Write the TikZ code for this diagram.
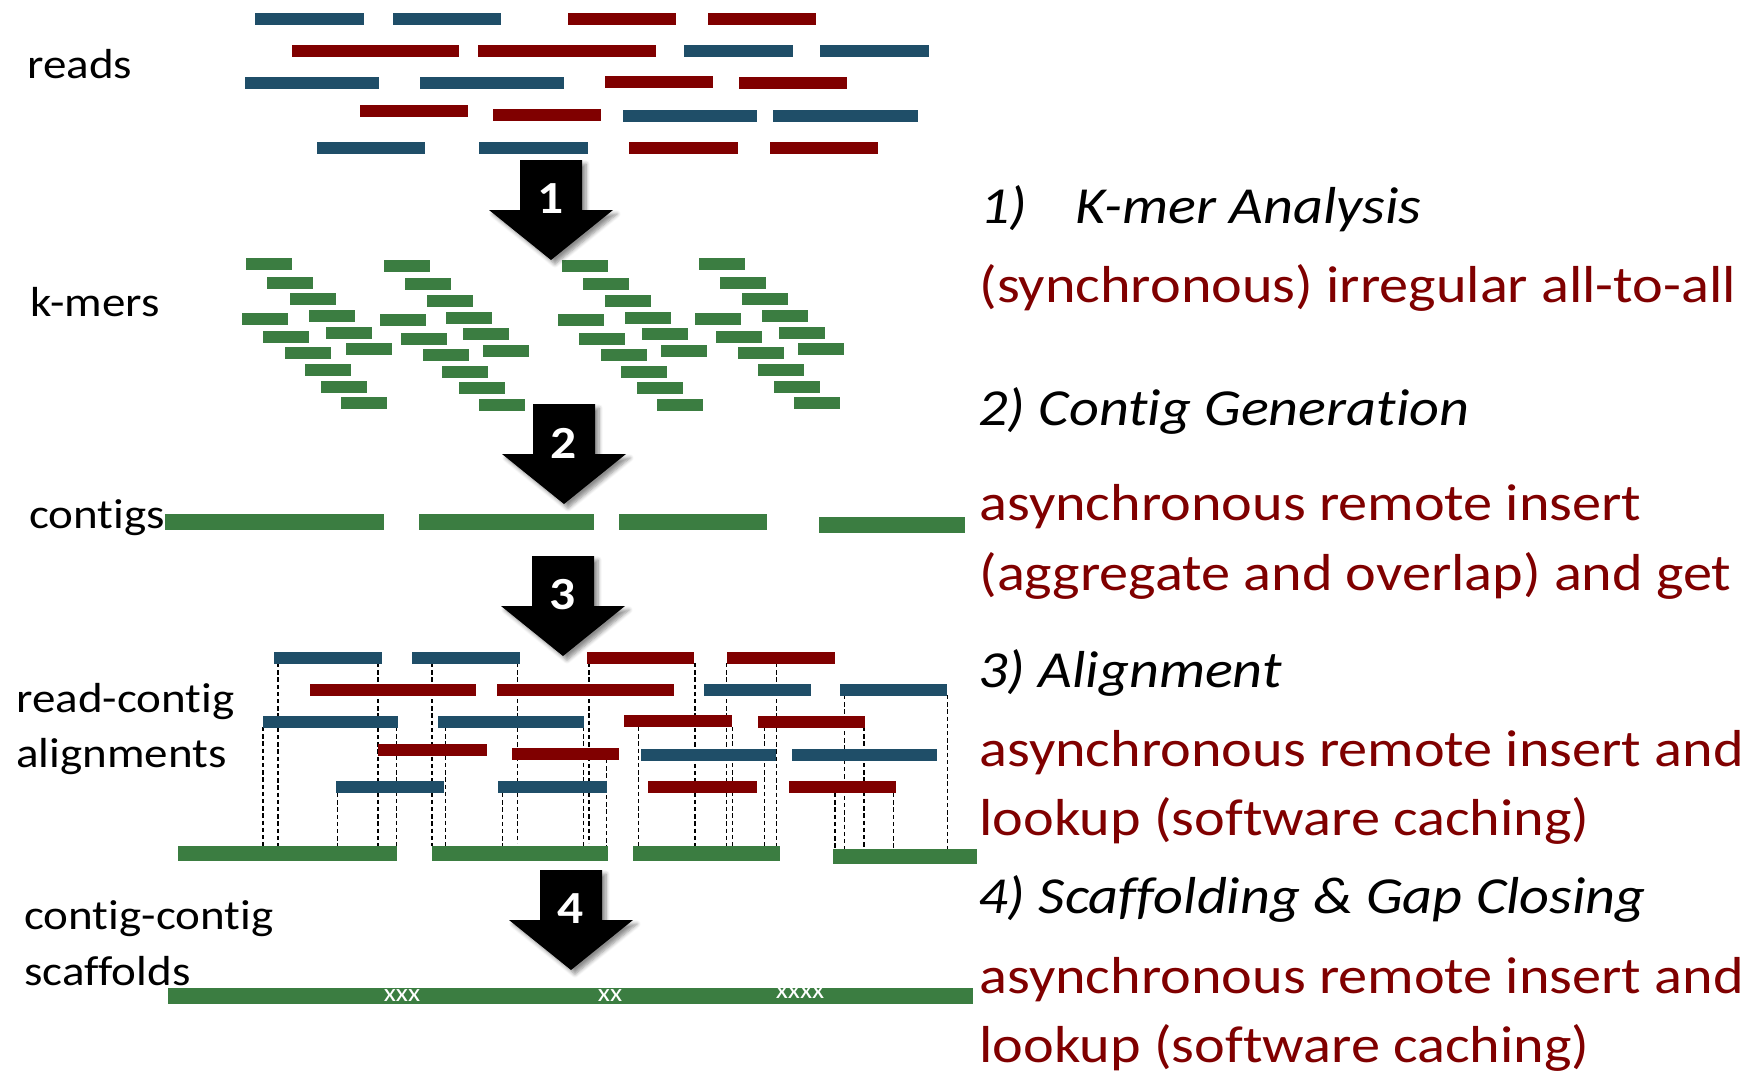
\documentclass[tikz,border=0pt]{standalone}
\usepackage{fontspec}
\setmainfont{Carlito}[FakeStretch=1.12, Ligatures=NoCommon]
\usetikzlibrary{shadows.blur}
\definecolor{rblue}{RGB}{31,78,104}
\definecolor{rred}{RGB}{128,0,0}
\definecolor{kgreen}{RGB}{59,125,65}
\definecolor{tred}{RGB}{128,0,0}
\newcommand\rb[5]{\fill[#1] (#2,#4) rectangle (#3,#5);}
\newcommand\kmergroup[2]{%
  \foreach \dx/\dy in {0/0,21/18.3,43.3/35,62.5/51.7,79.5/68.3,99.1/85,
                       -4/54.3,17/72.7,38.8/89,58.5/105.7,75/122.3,94.6/139}
    {\fill[kgreen] ({#1+\dx},{#2+\dy}) rectangle ++(46,12);}}
\newcommand\blockarrow[4]{%
  \fill[blk] ({#2-31},#3) -- ({#2+31},#3) -- ({#2+31},{#3+50}) -- ({#2+62},{#3+50})
    -- (#2,{#3+100}) -- ({#2-62},{#3+50}) -- ({#2-31},{#3+50}) -- cycle;
  \node[num] (#1) at (#2,{#3+39}) {#4};}
\newcommand\dl[3]{\draw[dashln] (#1,#2) -- (#1,#3);}
\begin{document}
\begin{tikzpicture}[x=0.5pt,y=-0.5pt,
  lbl/.style={anchor=base west, inner sep=0pt, font=\fontsize{21}{25}\selectfont},
  ttl/.style={anchor=base west, inner sep=0pt, font=\fontsize{26}{31}\selectfont\itshape},
  desc/.style={anchor=base west, inner sep=0pt, text=tred, font=\fontsize{26}{31}\selectfont},
  num/.style={text=white, inner sep=0pt, font=\fontsize{23}{27}\selectfont\bfseries},
  gapx/.style={text=white, inner sep=0pt, font=\fontsize{12.5}{14}\selectfont},
  dashln/.style={black, line width=0.75pt, dash pattern=on 2.2pt off 1.4pt},
  blk/.style={fill=black, blur shadow={shadow xshift=2pt, shadow yshift=-2pt, shadow opacity=45, shadow blur steps=6}},
]
\useasboundingbox (0,0) rectangle (1760,1073);

% ---------- reads ----------
\rb{rblue}{255}{364}{13}{25}  \rb{rblue}{393}{501}{13}{25}
\rb{rred}{568}{676}{13}{25}   \rb{rred}{708}{816}{13}{25}
\rb{rred}{292}{459}{45}{57}   \rb{rred}{478}{656}{45}{57}
\rb{rblue}{684}{793}{45}{57}  \rb{rblue}{820}{929}{45}{57}
\rb{rblue}{245}{379}{77}{89}  \rb{rblue}{420}{564}{77}{89}
\rb{rred}{605}{713}{76}{88}   \rb{rred}{739}{847}{77}{89}
\rb{rred}{360}{468}{105}{117} \rb{rred}{493}{601}{109}{121}
\rb{rblue}{623}{757}{110}{122} \rb{rblue}{773}{918}{110}{122}
\rb{rblue}{317}{425}{142}{154} \rb{rblue}{479}{588}{142}{154}
\rb{rred}{629}{738}{142}{154}  \rb{rred}{770}{878}{142}{154}

% ---------- k-mers ----------
\kmergroup{246.4}{258.3}
\kmergroup{383.9}{260}
\kmergroup{562.0}{260}
\kmergroup{699.1}{258.3}

% ---------- contigs ----------
\rb{kgreen}{165}{384}{514}{530}
\rb{kgreen}{419}{594}{514}{530}
\rb{kgreen}{619}{767}{514}{530}
\rb{kgreen}{819}{965}{517}{533}

% ---------- alignments: dashed lines ----------
\dl{263}{727}{846} \dl{278}{663}{846} \dl{337.7}{793}{846} \dl{378}{663}{846}
\dl{396.7}{727}{858} \dl{432}{663}{846} \dl{445.7}{727}{846} \dl{502.7}{793}{846}
\dl{517.3}{663}{843} \dl{583.3}{727}{846} \dl{589}{663}{843} \dl{606.7}{759}{846}
\dl{638.7}{727}{846} \dl{695}{663}{846} \dl{726.7}{663}{846} \dl{732.3}{727}{846}
\dl{764.3}{727}{846} \dl{776.7}{663}{846} \dl{835}{793}{850} \dl{844.3}{695}{850}
\dl{864}{727}{850} \dl{893.7}{793}{850} \dl{947.3}{695}{850}

% ---------- alignments: reads ----------
\rb{rblue}{274}{382}{652}{663.5}  \rb{rblue}{412}{520}{652}{663.5}
\rb{rred}{587}{694}{652}{663.5}   \rb{rred}{727}{835}{652}{663.5}
\rb{rred}{310}{476}{684}{695.5}   \rb{rred}{497}{674}{684}{695.5}
\rb{rblue}{704}{811}{684}{695.5}  \rb{rblue}{840}{947}{684}{695.5}
\rb{rblue}{263}{398}{716}{727.5}  \rb{rblue}{438}{584}{716}{727.5}
\rb{rred}{624}{732}{715}{726.5}   \rb{rred}{758}{865}{716}{727.5}
\rb{rred}{378}{487}{744}{755.5}   \rb{rred}{512}{619}{748}{759.5}
\rb{rblue}{641}{776}{749}{760.5}  \rb{rblue}{792}{937}{749}{760.5}
\rb{rblue}{336}{444}{781}{792.5}  \rb{rblue}{498}{607}{781}{792.5}
\rb{rred}{648}{757}{781}{792.5}   \rb{rred}{789}{896}{781}{792.5}

\rb{kgreen}{177.5}{397}{846}{861}
\rb{kgreen}{432}{608}{846}{861}
\rb{kgreen}{632.7}{780.3}{846}{861}
\rb{kgreen}{833}{977}{849}{864}

% ---------- scaffold ----------
\rb{kgreen}{168}{973}{988}{1004}
\node[gapx] (g1) at (402,996) {xxx};
\node[gapx] (g2) at (610,996) {xx};
\node[gapx] (g3) at (800,993) {xxxx};

% ---------- arrows ----------
\blockarrow{a1}{551}{160}{1}
\blockarrow{a2}{564}{404}{2}
\blockarrow{a3}{563}{556}{3}
\blockarrow{a4}{571}{870}{4}

% ---------- left labels ----------
\node[lbl] (l1) at (27,78) {reads};
\node[lbl] (l2) at (30,316.7) {k-mers};
\node[lbl] (l3) at (29,528) {contigs};
\node[lbl] (l4) at (16,712) {read-contig};
\node[lbl] (l5) at (16,767) {alignments};
\node[lbl] (l6) at (24,929) {contig-contig};
\node[lbl] (l7) at (24,985) {scaffolds};

% ---------- right text ----------
\node[ttl] (t1a) at (980,223) {1)};
\node[ttl] (t1) at (1075,223) {K-mer Analysis};
\node[desc] (d1) at (979,302) {(synchronous) irregular all-to-all};
\node[ttl] (t2) at (978,425) {2) Contig Generation};
\node[desc] (d2a) at (979,520) {asynchronous remote insert};
\node[desc] (d2b) at (979,590) {(aggregate and overlap) and get};
\node[ttl] (t3) at (978,687) {3) Alignment};
\node[desc] (d3a) at (979,766) {asynchronous remote insert and};
\node[desc] (d3b) at (979,835) {lookup (software caching)};
\node[ttl] (t4) at (978,913) {4) Scaffolding \& Gap Closing};
\node[desc] (d4a) at (979,993) {asynchronous remote insert and};
\node[desc] (d4b) at (979,1062) {lookup (software caching)};
\end{tikzpicture}
\end{document}
